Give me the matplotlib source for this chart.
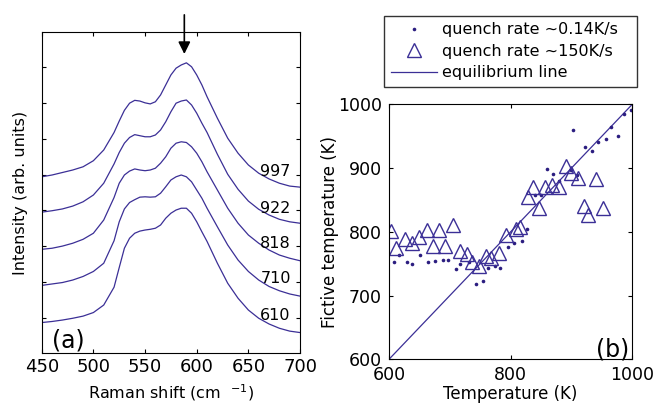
import numpy as np
import matplotlib
matplotlib.use("Agg")
import matplotlib.pyplot as plt
from matplotlib.lines import Line2D

plt.rcParams['font.family'] = ['DejaVu Sans']
plt.rcParams['mathtext.fontset'] = 'dejavusans'

blue = '#3b2f96'
dotblue = '#2b1d80'

# ---- panel (a): Raman spectra, offset ----
shift = [450, 460, 470, 480, 490, 500, 510, 520, 525, 530, 535, 540, 545, 550,
         555, 560, 565, 570, 575, 580, 585, 590, 595, 600, 605, 610, 620, 630,
         640, 650, 660, 670, 680, 690, 700]

spec_997 = [4.94, 4.99, 5.06, 5.13, 5.22, 5.39, 5.69, 6.18, 6.50, 6.80, 7.00, 7.08,
            7.06, 7.01, 6.98, 7.04, 7.23, 7.51, 7.79, 7.98, 8.07, 8.13, 8.02, 7.79,
            7.51, 7.18, 6.58, 6.02, 5.60, 5.27, 5.04, 4.88, 4.76, 4.68, 4.65]
spec_922 = [3.95, 3.99, 4.04, 4.12, 4.24, 4.43, 4.76, 5.30, 5.62, 5.88, 6.04, 6.12,
            6.09, 6.06, 6.06, 6.11, 6.25, 6.48, 6.76, 7.00, 7.06, 7.09, 6.95, 6.72,
            6.44, 6.18, 5.57, 5.01, 4.59, 4.26, 4.03, 3.87, 3.75, 3.68, 3.64]
spec_818 = [2.91, 2.94, 3.00, 3.08, 3.19, 3.36, 3.73, 4.36, 4.76, 4.99, 5.10, 5.16,
            5.13, 5.11, 5.13, 5.18, 5.32, 5.50, 5.74, 5.88, 5.92, 5.90, 5.78, 5.60,
            5.36, 5.08, 4.57, 4.06, 3.64, 3.31, 3.08, 2.89, 2.75, 2.66, 2.59]
spec_710 = [1.90, 1.94, 1.98, 2.05, 2.15, 2.29, 2.52, 3.15, 3.68, 4.04, 4.22, 4.30,
            4.37, 4.38, 4.37, 4.38, 4.48, 4.66, 4.85, 4.94, 4.99, 4.94, 4.80, 4.57,
            4.34, 4.06, 3.54, 3.03, 2.61, 2.29, 2.05, 1.87, 1.75, 1.66, 1.60]
spec_610 = [0.86, 0.89, 0.93, 0.98, 1.04, 1.14, 1.35, 1.85, 2.40, 2.94, 3.22, 3.36,
            3.42, 3.45, 3.47, 3.50, 3.59, 3.78, 3.92, 4.01, 4.06, 4.06, 3.92, 3.68,
            3.40, 3.13, 2.52, 1.96, 1.54, 1.21, 0.98, 0.82, 0.70, 0.62, 0.58]

spectra = [spec_997, spec_922, spec_818, spec_710, spec_610]
spec_labels = ['997', '922', '818', '710', '610']
label_y = [5.08, 4.06, 3.08, 2.10, 1.07]

# ---- panel (b): fictive temperature ----
slow_T = [609, 616, 630, 637, 651, 664, 675, 688, 697, 710, 717, 731, 743, 754,
          763, 774, 783, 795, 806, 819, 827, 840, 850, 860, 870, 880, 899, 909,
          903, 923, 933, 943, 956, 965, 976, 986, 998]
slow_Tf = [752, 764, 752, 749, 763, 752, 754, 756, 756, 742, 749, 752, 718, 723,
           744, 746, 744, 776, 783, 785, 805, 857, 857, 898, 891, 879, 897, 889,
           959, 933, 927, 941, 945, 964, 950, 985, 991]

fast_T = [603, 611, 627, 638, 649, 662, 672, 682, 692, 705, 716, 729, 736, 748,
          759, 767, 781, 792, 808, 815, 828, 836, 846, 856, 868, 879, 891, 900,
          910, 921, 928, 941, 952]
fast_Tf = [801, 774, 789, 782, 792, 803, 778, 803, 778, 810, 770, 765, 753, 747,
           762, 759, 766, 795, 804, 808, 855, 870, 837, 870, 873, 870, 904, 892,
           884, 840, 826, 883, 838]

eq_T = [600, 1000]

fig = plt.figure(figsize=(6.54, 4.07), dpi=100)

ax1 = fig.add_axes([0.0638, 0.132, 0.395, 0.790])
for s in spectra:
    ax1.plot(shift, s, color=blue, lw=0.9)
for lab, yy in zip(spec_labels, label_y):
    ax1.text(691, yy, lab, ha='right', va='center', fontsize=11.5)
ax1.text(460, 0.15, '(a)', fontsize=17, ha='left', va='baseline')
ax1.annotate('', xy=(588, 8.30), xytext=(588, 9.55), xycoords='data',
             arrowprops=dict(arrowstyle='-|>', color='black', lw=1.2,
                             mutation_scale=18),
             annotation_clip=False)
ax1.set_xlim(450, 700)
ax1.set_ylim(0, 9)
ax1.set_xticks([450, 500, 550, 600, 650, 700])
ax1.set_yticks(range(1, 9))
ax1.set_yticklabels([])
ax1.tick_params(direction='in', top=True, right=True, length=3, labelsize=13)
ax1.set_xlabel('Raman shift (cm  $^{-1}$)', fontsize=11.5)
ax1.set_ylabel('Intensity (arb. units)', fontsize=11.5)
ax1.xaxis.set_label_coords(0.5, -0.09)
ax1.yaxis.set_label_coords(-0.055, 0.5)

ax2 = fig.add_axes([0.5948, 0.1172, 0.372, 0.6265])
ax2.plot(eq_T, eq_T, color=blue, lw=0.9)
ax2.plot(slow_T, slow_Tf, 'o', color=dotblue, ms=2.6, mew=0)
ax2.plot(fast_T, fast_Tf, '^', mfc='none', mec=blue, ms=9.5, mew=1.0)
ax2.text(941, 604, '(b)', fontsize=17, ha='left', va='baseline')
ax2.set_xlim(600, 1000)
ax2.set_ylim(600, 1000)
ax2.set_xticks([600, 800, 1000])
ax2.set_yticks([600, 700, 800, 900, 1000])
ax2.tick_params(direction='in', top=True, right=True, length=3, labelsize=12.5)
ax2.tick_params(axis='x', pad=4.5)
ax2.tick_params(axis='y', pad=5)
ax2.set_xlabel('Temperature (K)', fontsize=12)
ax2.set_ylabel('Fictive temperature (K)', fontsize=12)
ax2.xaxis.set_label_coords(0.5, -0.10)
ax2.yaxis.set_label_coords(-0.205, 0.5)

handles = [Line2D([], [], ls='none', marker='o', color=dotblue, ms=2.6, mew=0),
           Line2D([], [], ls='none', marker='^', mfc='none', mec=blue, ms=9.5, mew=1.0),
           Line2D([], [], color=blue, lw=0.9)]
labels = ['quench rate ~0.14K/s', 'quench rate ~150K/s', 'equilibrium line']
leg = fig.legend(handles, labels, loc='upper left',
                 bbox_to_anchor=(0.5877, 0.7722, 0.3858, 0.1885), mode='expand',
                 borderaxespad=0, fontsize=11.5, frameon=True, fancybox=False,
                 handlelength=2.9, handletextpad=0.3, labelspacing=0.4,
                 borderpad=0.4)
leg.get_frame().set_edgecolor('black')
leg.get_frame().set_linewidth(1.0)

fig.savefig('out.png', dpi=100)
